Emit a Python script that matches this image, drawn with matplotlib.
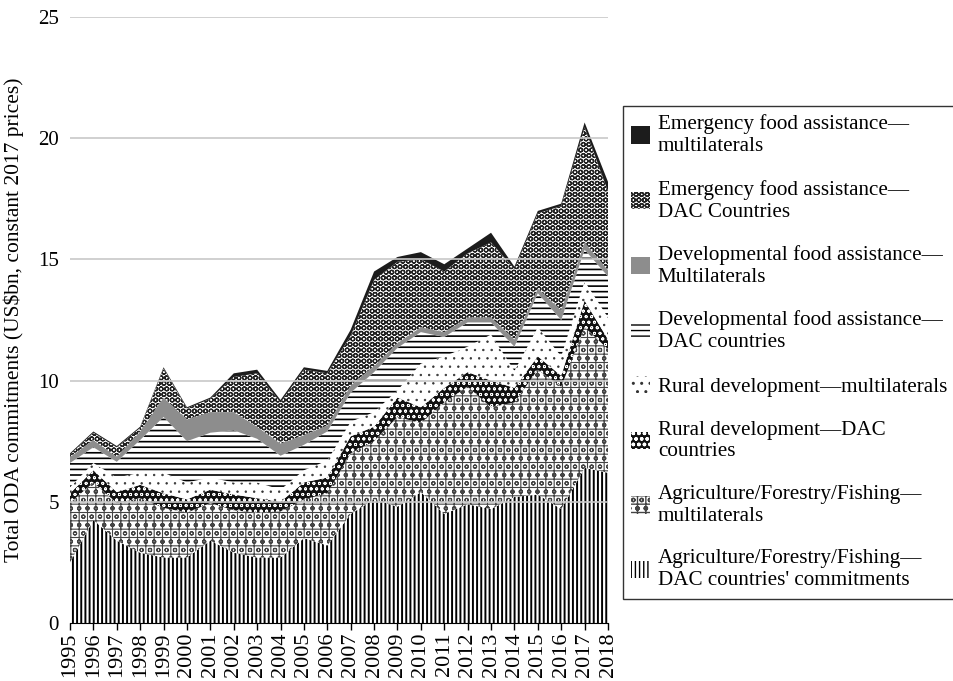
import numpy as np
import matplotlib.pyplot as plt
from matplotlib.patches import Patch

years = list(range(1995, 2019))

# values in US$bn (bottom layer first)
agri_dac = [2.5, 4.25, 3.4, 2.9, 2.7, 2.7, 3.4, 2.9, 2.7, 2.7, 3.5, 3.2,
            4.5, 5.1, 4.8, 5.4, 4.5, 4.9, 4.7, 5.2, 5.3, 4.7, 6.4, 6.2]
agri_multi = [2.45, 1.55, 1.55, 2.25, 2.05, 1.85, 1.55, 1.75, 1.85, 1.9, 1.6, 2.15,
              2.5, 2.4, 3.7, 2.85, 4.6, 4.85, 4.2, 3.9, 5.15, 5.05, 5.8, 5.1]
rural_dac = [0.4, 0.5, 0.45, 0.55, 0.6, 0.55, 0.55, 0.65, 0.6, 0.4, 0.7, 0.65,
             0.7, 0.6, 0.8, 0.65, 0.6, 0.6, 1.1, 0.6, 0.55, 0.45, 1.1, 0.4]
rural_multi = [0.25, 0.3, 0.6, 0.5, 0.85, 0.7, 0.5, 0.5, 0.65, 0.5, 0.5, 0.7,
               0.6, 0.6, 0.3, 1.8, 1.3, 1.05, 1.9, 0.7, 1.2, 0.8, 0.8, 0.9]
dev_dac = [1.0, 0.65, 0.65, 1.35, 2.3, 1.7, 1.85, 2.15, 1.8, 1.4, 1.05, 1.2,
           1.2, 1.65, 1.75, 1.3, 0.8, 1.0, 0.5, 1.0, 1.4, 1.5, 1.3, 1.7]
dev_multi = [0.25, 0.3, 0.2, 0.35, 0.8, 0.9, 0.85, 0.75, 0.5, 0.5, 0.4, 0.25,
             0.3, 0.25, 0.2, 0.2, 0.2, 0.2, 0.2, 0.3, 0.2, 0.4, 0.3, 0.25]
em_dac = [0.1, 0.3, 0.4, 0.15, 1.2, 0.45, 0.55, 1.45, 2.2, 1.7, 2.7, 2.15,
          2.05, 3.55, 3.35, 2.8, 2.5, 2.65, 3.1, 2.9, 3.1, 4.3, 4.75, 3.25]
em_multi = [0.05, 0.05, 0.05, 0.05, 0.05, 0.05, 0.05, 0.15, 0.15, 0.1, 0.1, 0.1,
            0.25, 0.35, 0.2, 0.3, 0.3, 0.2, 0.4, 0.1, 0.1, 0.1, 0.2, 0.4]

labels = ["Agriculture/Forestry/Fishing—\nDAC countries' commitments",
          "Agriculture/Forestry/Fishing—\nmultilaterals",
          "Rural development—DAC\ncountries",
          "Rural development—multilaterals",
          "Developmental food assistance—\nDAC countries",
          "Developmental food assistance—\nMultilaterals",
          "Emergency food assistance—\nDAC Countries",
          "Emergency food assistance—\nmultilaterals"]

series = [agri_dac, agri_multi, rural_dac, rural_multi,
          dev_dac, dev_multi, em_dac, em_multi]

# face, hatch colour, hatch, hatch linewidth
styles = [("white", "black", "||||", 1.4),
          ("white", "#444444", "++oo", 0.8),
          ("#111111", "white", "ooo", 0.6),
          ("white", "#333333", "..", 0.5),
          ("white", "black", "---", 1.2),
          ("#8d8d8d", "#8d8d8d", "", 1.0),
          ("white", "#222222", "OOO", 0.9),
          ("#1c1c1c", "#1c1c1c", "", 1.0)]

plt.rcParams['font.family'] = ['Liberation Serif', 'DejaVu Serif']

fig = plt.figure(figsize=(9.54, 6.81), dpi=100)
ax = fig.add_axes([70/954, 58/681, 538/954, 606/681])

x = np.array(years)
base = np.zeros(len(years))
handles = []
for vals, lab, (fc, hc, h, hlw) in zip(series, labels, styles):
    top = base + np.array(vals)
    plt.rcParams['hatch.linewidth'] = hlw
    ax.fill_between(x, base, top, facecolor=fc, edgecolor=hc, hatch=h,
                    linewidth=0, zorder=2)
    handles.append(Patch(facecolor=fc, edgecolor=hc, hatch=h, linewidth=0, label=lab))
    base = top

for yv in range(5, 30, 5):
    ax.axhline(yv, color="#c8c8c8", lw=1.2, zorder=3)

ax.set_xlim(1995, 2018)
ax.set_ylim(0, 25)
ax.set_xticks(years)
ax.set_xticklabels([str(y) for y in years], rotation=90, fontsize=16)
ax.set_yticks(range(0, 30, 5))
ax.tick_params(axis='y', length=0, labelsize=15, pad=8)
ax.tick_params(axis='x', length=5, width=1, color='black', pad=2)
for s in ['top', 'right', 'left']:
    ax.spines[s].set_visible(False)
ax.spines['bottom'].set_color('black')
ax.spines['bottom'].set_zorder(4)
ax.set_ylabel("Total ODA commitments (US$bn, constant 2017 prices)", fontsize=15.5, labelpad=10)

leg = fig.legend(handles=handles[::-1], loc='upper left',
                 bbox_to_anchor=(623/954, 1 - 106/681), fontsize=15.2,
                 frameon=True, fancybox=False, borderaxespad=0,
                 handlelength=0.9, handleheight=0.9, handletextpad=0.35,
                 labelspacing=1.12, borderpad=0.4)
leg.get_frame().set_edgecolor('black')
leg.get_frame().set_linewidth(1.0)

fig.savefig("out.png", dpi=100)
